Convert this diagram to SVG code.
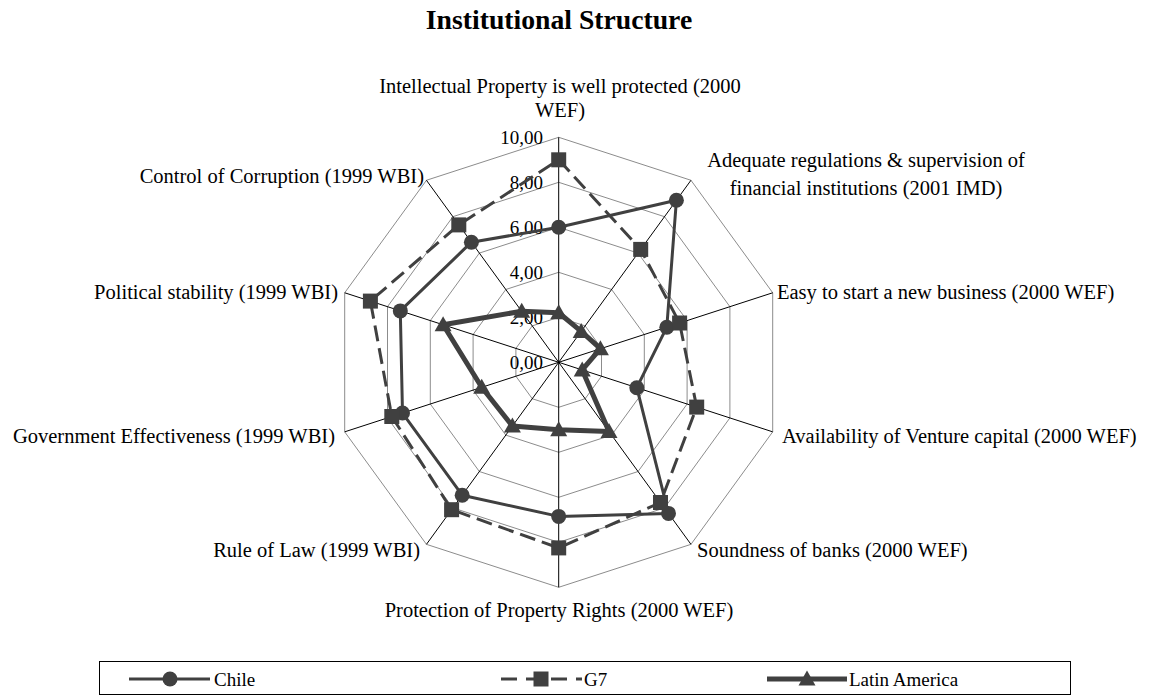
<svg xmlns="http://www.w3.org/2000/svg" width="1150" height="696" viewBox="0 0 1150 696">
<style>
text{font-family:"Liberation Serif","Times New Roman",serif;fill:#000}
.title{font-size:27.7px;font-weight:bold}
.lbl{font-size:20.5px}
.val{font-size:19px;text-anchor:end}
.leg{font-size:19px}
.grid{fill:none;stroke:#8c8c8c;stroke-width:1}
.axis{stroke:#000;stroke-width:1}
.chile{fill:none;stroke:#404040;stroke-width:3;stroke-linejoin:round}
.g7{fill:none;stroke:#404040;stroke-width:3;stroke-dasharray:16 7}
.latam{fill:none;stroke:#404040;stroke-width:5;stroke-linejoin:round}
.mk{fill:#404040}
</style>
<defs>
<circle id="mc" r="7.5" class="mk"/>
<rect id="ms" x="-7.5" y="-7.5" width="15" height="15" class="mk"/>
<path id="mt" d="M0,-8.5 L8.5,6.5 L-8.5,6.5 Z" class="mk"/>
</defs>
<rect width="1150" height="696" fill="#fff"/>
<text class="title" x="559" y="29" text-anchor="middle">Institutional Structure</text>

<g id="grid">
<polygon class="grid" points="558.7,317.3 585.15,325.89 601.5,348.39 601.5,376.21 585.15,398.71 558.7,407.3 532.25,398.71 515.9,376.21 515.9,348.39 532.25,325.89"/>
<polygon class="grid" points="558.7,272.3 611.6,289.49 644.3,334.49 644.3,390.11 611.6,435.11 558.7,452.3 505.8,435.11 473.1,390.11 473.1,334.49 505.8,289.49"/>
<polygon class="grid" points="558.7,227.3 638.05,253.08 687.1,320.58 687.1,404.02 638.05,471.52 558.7,497.3 479.35,471.52 430.3,404.02 430.3,320.58 479.35,253.08"/>
<polygon class="grid" points="558.7,182.3 664.5,216.68 729.9,306.68 729.9,417.92 664.5,507.92 558.7,542.3 452.9,507.92 387.5,417.92 387.5,306.68 452.9,216.68"/>
<polygon class="grid" points="558.7,137.3 690.96,180.27 772.7,292.77 772.7,431.83 690.96,544.33 558.7,587.3 426.44,544.33 344.7,431.83 344.7,292.77 426.44,180.27"/>
<line class="axis" x1="558.7" y1="362.3" x2="558.7" y2="137.3"/>
<line class="axis" x1="558.7" y1="362.3" x2="690.96" y2="180.27"/>
<line class="axis" x1="558.7" y1="362.3" x2="772.7" y2="292.77"/>
<line class="axis" x1="558.7" y1="362.3" x2="772.7" y2="431.83"/>
<line class="axis" x1="558.7" y1="362.3" x2="690.96" y2="544.33"/>
<line class="axis" x1="558.7" y1="362.3" x2="558.7" y2="587.3"/>
<line class="axis" x1="558.7" y1="362.3" x2="426.44" y2="544.33"/>
<line class="axis" x1="558.7" y1="362.3" x2="344.7" y2="431.83"/>
<line class="axis" x1="558.7" y1="362.3" x2="344.7" y2="292.77"/>
<line class="axis" x1="558.7" y1="362.3" x2="426.44" y2="180.27"/>
</g>

<g id="scale">
<text class="val" x="543" y="143.8">10,00</text>
<text class="val" x="543" y="188.8">8,00</text>
<text class="val" x="543" y="233.8">6,00</text>
<text class="val" x="543" y="278.8">4,00</text>
<text class="val" x="543" y="323.8">2,00</text>
<text class="val" x="543" y="368.8">0,00</text>
</g>

<g id="axis-labels">
<text class="lbl" x="560" y="92.5" text-anchor="middle">Intellectual Property is well protected (2000</text>
<text class="lbl" x="560" y="116.5" text-anchor="middle">WEF)</text>
<text class="lbl" x="866" y="167" text-anchor="middle">Adequate regulations &amp; supervision of</text>
<text class="lbl" x="866" y="195" text-anchor="middle">financial institutions (2001 IMD)</text>
<text class="lbl" x="777" y="299">Easy to start a new business (2000 WEF)</text>
<text class="lbl" x="782" y="443">Availability of Venture capital (2000 WEF)</text>
<text class="lbl" x="697" y="557">Soundness of banks (2000 WEF)</text>
<text class="lbl" x="559" y="617" text-anchor="middle">Protection of Property Rights (2000 WEF)</text>
<text class="lbl" x="420" y="557" text-anchor="end">Rule of Law (1999 WBI)</text>
<text class="lbl" x="335" y="443" text-anchor="end">Government Effectiveness (1999 WBI)</text>
<text class="lbl" x="338" y="299" text-anchor="end">Political stability (1999 WBI)</text>
<text class="lbl" x="424" y="183" text-anchor="end">Control of Corruption (1999 WBI)</text>
</g>

<g id="connectors">
<polygon class="chile" points="558.7,227.3 676.4,200.3 666.8,327.2 636.8,387.7 668.5,513.4 558.7,516.4 462.2,495.2 402.5,413.05 400.3,310.9 471.4,242.2"/>
<polygon class="g7" points="558.7,159.8 640.7,249.4 679.6,323.0 696.7,407.1 660.5,502.5 558.7,547.9 451.6,509.7 391.8,416.5 370.4,301.1 458.8,224.9"/>
<polygon class="latam" points="558.7,312.8 581.2,331.4 600.4,348.7 582.2,369.9 609.0,431.5 558.7,429.8 512.4,426.0 481.7,387.3 443.1,324.8 521.7,311.3"/>
</g>

<g id="chile">
<use href="#mc" x="558.7" y="227.3"/><use href="#mc" x="676.4" y="200.3"/><use href="#mc" x="666.8" y="327.2"/><use href="#mc" x="636.8" y="387.7"/><use href="#mc" x="668.5" y="513.4"/><use href="#mc" x="558.7" y="516.4"/><use href="#mc" x="462.2" y="495.2"/><use href="#mc" x="402.5" y="413.05"/><use href="#mc" x="400.3" y="310.9"/><use href="#mc" x="471.4" y="242.2"/>
</g>
<g id="g7">
<use href="#ms" x="558.7" y="159.8"/><use href="#ms" x="640.7" y="249.4"/><use href="#ms" x="679.6" y="323.0"/><use href="#ms" x="696.7" y="407.1"/><use href="#ms" x="660.5" y="502.5"/><use href="#ms" x="558.7" y="547.9"/><use href="#ms" x="451.6" y="509.7"/><use href="#ms" x="391.8" y="416.5"/><use href="#ms" x="370.4" y="301.1"/><use href="#ms" x="458.8" y="224.9"/>
</g>
<g id="latin-america">
<use href="#mt" x="558.7" y="312.8"/><use href="#mt" x="581.2" y="331.4"/><use href="#mt" x="600.4" y="348.7"/><use href="#mt" x="582.2" y="369.9"/><use href="#mt" x="609.0" y="431.5"/><use href="#mt" x="558.7" y="429.8"/><use href="#mt" x="512.4" y="426.0"/><use href="#mt" x="481.7" y="387.3"/><use href="#mt" x="443.1" y="324.8"/><use href="#mt" x="521.7" y="311.3"/>
</g>

<g id="legend">
<rect x="99.5" y="661.5" width="971" height="33" fill="none" stroke="#000" stroke-width="1"/>
<line class="chile" x1="129" y1="679" x2="210" y2="679"/>
<use href="#mc" x="170" y="679"/>
<text class="leg" x="214" y="685.5">Chile</text>
<line class="g7" x1="501" y1="679" x2="582" y2="679" style="stroke-dasharray:16 9"/>
<use href="#ms" x="541" y="679"/>
<text class="leg" x="584" y="685.5">G7</text>
<line class="latam" x1="767" y1="679" x2="847" y2="679"/>
<use href="#mt" x="807" y="679"/>
<text class="leg" x="849" y="685.5">Latin America</text>
</g>
</svg>
